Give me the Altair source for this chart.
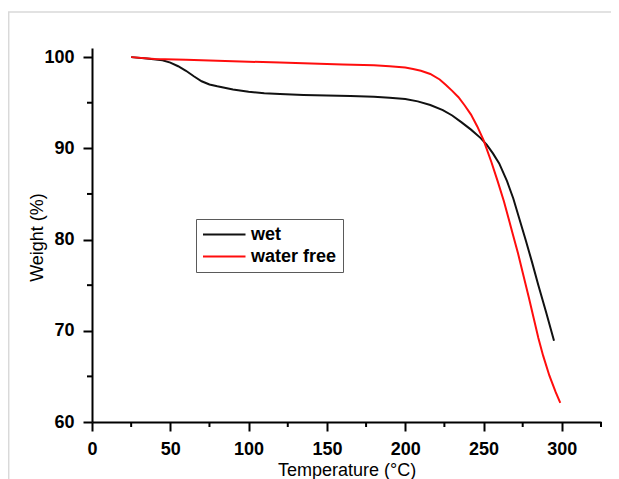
import altair as alt
import pandas as pd

# ---- data ----
wet_T = [25, 35, 45, 50, 55, 60, 65, 70, 75, 80, 90, 100, 110, 120, 135, 150, 165, 180, 190, 200,
         208, 216, 224, 230, 236, 242, 248, 252, 256, 260, 265, 269, 273, 277, 281, 285, 290, 295]
wet_W = [100.0, 99.85, 99.65, 99.4, 99.0, 98.5, 97.9, 97.35, 97.0, 96.8, 96.45, 96.2, 96.05, 95.95,
         95.85, 95.8, 95.75, 95.65, 95.55, 95.4, 95.15, 94.75, 94.2, 93.6, 92.85, 92.05, 91.15, 90.4,
         89.45, 88.35, 86.4, 84.5, 82.2, 79.9, 77.5, 75.0, 72.0, 68.9]

dry_T = [25, 40, 60, 80, 100, 120, 140, 160, 180, 190, 200, 205, 210, 216, 222, 226, 230, 234, 238,
         242, 246, 250, 255, 259, 263, 266, 269, 272, 275, 279, 282, 285, 288, 292, 296, 299]
dry_W = [100.0, 99.8, 99.7, 99.6, 99.5, 99.4, 99.3, 99.2, 99.1, 99.0, 98.85, 98.7, 98.5, 98.15, 97.55,
         96.95, 96.3, 95.6, 94.7, 93.7, 92.4, 90.9, 88.5, 86.4, 84.2, 82.3, 80.4, 78.5, 76.4, 73.6,
         71.4, 69.2, 67.3, 65.1, 63.3, 62.1]

series_names = ["wet", "water free"]
series_colors = ["#111111", "#ff0d0d"]

x_major = [0, 50, 100, 150, 200, 250, 300]
x_minor = [25, 75, 125, 175, 225, 275, 325]
y_major = [60, 70, 80, 90, 100]
y_minor = [65, 75, 85, 95]

x_title = "Temperature (°C)"
y_title = "Weight (%)"

# ---- build ----
df = pd.concat([
    pd.DataFrame({"T": wet_T, "W": wet_W, "series": series_names[0]}),
    pd.DataFrame({"T": dry_T, "W": dry_W, "series": series_names[1]}),
], ignore_index=True)

W, H = 509, 374
PAD_R, PAD_B = 10, 57
FONT = "Liberation Sans"
xscale = alt.Scale(domain=[0, 325], nice=False, zero=False)
yscale = alt.Scale(domain=[60, 101], nice=False, zero=False)

common_axis = dict(
    grid=False, domainColor="black", domainWidth=2, tickColor="black", tickWidth=2,
    tickSize=9, labelFont=FONT, labelFontSize=18, labelFontWeight="bold", labelColor="black",
    labelPadding=9, labelFlush=False, labelOverlap=False,
    titleFont=FONT, titleFontSize=18, titleFontWeight="normal", titleColor="black",
)

x_axis = alt.Axis(values=x_major, title=x_title, titleX=W / 2, titleY=53,
                  titleBaseline="alphabetic", **common_axis)
y_axis = alt.Axis(values=y_major, title=y_title, titleX=-55, titleY=H / 2 + 2,
                  titleBaseline="middle", titleAlign="center", **common_axis)

lines = alt.Chart(df).mark_line(strokeWidth=2).encode(
    x=alt.X("T:Q", scale=xscale, axis=x_axis),
    y=alt.Y("W:Q", scale=yscale, axis=y_axis),
    color=alt.Color("series:N", sort=series_names,
                    scale=alt.Scale(domain=series_names, range=series_colors),
                    legend=alt.Legend(title=None, orient="none", legendX=104, legendY=171,
                                      symbolType="M-1,0H4", symbolSize=289,
                                      symbolStrokeWidth=2, labelOffset=30,
                                      labelFont=FONT, labelFontSize=18, labelFontWeight="bold",
                                      labelColor="black", rowPadding=3, padding=6,
                                      strokeColor="#5a5a5a", fillColor="white")),
)

minor_x = alt.Chart(pd.DataFrame({"T": x_minor})).mark_rule(color="black", strokeWidth=2).encode(
    x=alt.X("T:Q", scale=xscale, axis=x_axis),
    y=alt.value(H), y2=alt.value(H + 5),
)
minor_y = alt.Chart(pd.DataFrame({"W": y_minor})).mark_rule(color="black", strokeWidth=2).encode(
    y=alt.Y("W:Q", scale=yscale, axis=y_axis),
    x=alt.value(0), x2=alt.value(-5),
)

one = pd.DataFrame({"a": [0]})
frame_top = alt.Chart(one).mark_rule(color="#d9d9d9", strokeWidth=1.5).encode(
    x=alt.value(-84), x2=alt.value(W + PAD_R), y=alt.value(-36))
frame_left = alt.Chart(one).mark_rule(color="#d9d9d9", strokeWidth=1.5).encode(
    x=alt.value(-83.3), y=alt.value(-36), y2=alt.value(H + PAD_B))

chart = alt.layer(frame_top, frame_left, lines, minor_x, minor_y).properties(
    width=W, height=H,
    padding={"left": 84, "top": 40, "right": PAD_R, "bottom": PAD_B},
    autosize=alt.AutoSizeParams(type="none"),
    background="white",
).configure_view(stroke=None).configure_legend(strokeWidth=1)

chart.save("out.html", embed_options={"renderer": "svg", "actions": False})
